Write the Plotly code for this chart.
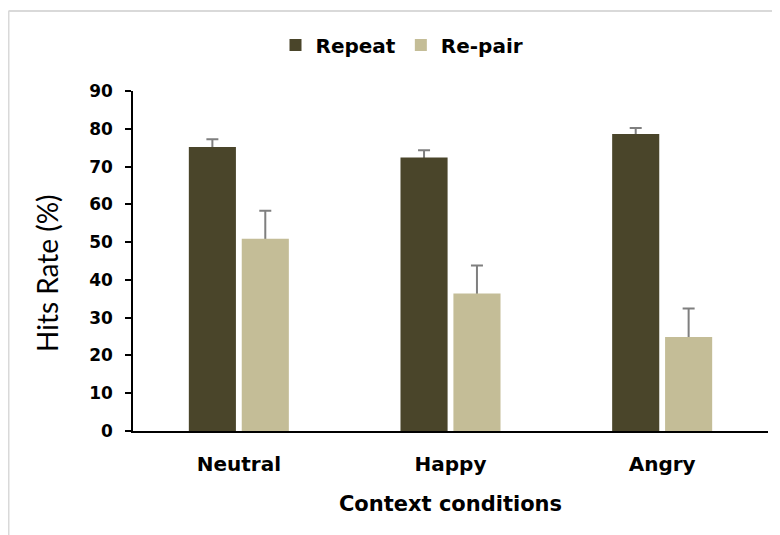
import plotly.graph_objects as go

categories = ["Neutral", "Happy", "Angry"]
repeat_vals = [75.2, 72.4, 78.6]
repeat_err = [2.0, 1.9, 1.6]
repair_vals = [50.9, 36.4, 24.9]
repair_err = [7.4, 7.4, 7.5]
y_ticks = [0, 10, 20, 30, 40, 50, 60, 70, 80, 90]

BOLD = "DejaVu Sans"
err_style = dict(type="data", thickness=2, width=6, color="#7f7f7f")
CLEAR = "rgba(0,0,0,0)"

fig = go.Figure()
# error bars first (transparent bars), so the solid bars drawn later hide the lower half
fig.add_trace(go.Bar(
    name="Repeat", x=categories, y=repeat_vals, offsetgroup="rep",
    error_y=dict(array=repeat_err, **err_style),
    marker=dict(color=CLEAR, line=dict(width=0)), showlegend=False, hoverinfo="skip",
))
fig.add_trace(go.Bar(
    name="Re-pair", x=categories, y=repair_vals, offsetgroup="pair",
    error_y=dict(array=repair_err, **err_style),
    marker=dict(color=CLEAR, line=dict(width=0)), showlegend=False, hoverinfo="skip",
))
fig.add_trace(go.Bar(
    name="Repeat", x=categories, y=repeat_vals, offsetgroup="rep",
    marker=dict(color="#4a452a", line=dict(width=0)),
))
fig.add_trace(go.Bar(
    name="Re-pair", x=categories, y=repair_vals, offsetgroup="pair",
    marker=dict(color="#c4bd97", line=dict(width=0)),
))

W, H = 772, 527
L, T, R, B = 125, 83, 12, 104
pw, ph = W - L - R, H - T - B


def px(x):
    return (x - L) / pw


def py(y):
    return (H - B - y) / ph


fig.update_layout(
    width=W, height=H,
    margin=dict(l=L, r=R, t=T, b=B),
    paper_bgcolor="white", plot_bgcolor="white",
    barmode="group", bargap=0.5, bargroupgap=0.11,
    showlegend=True,
    legend=dict(
        orientation="h", xref="container", yref="container",
        x=394 / W, xanchor="center", y=1 - 37 / H, yanchor="middle",
        font=dict(family=BOLD, size=20, color="black", weight="bold"),
        itemwidth=30,
    ),
    xaxis=dict(
        showline=True, linecolor="black", linewidth=1.5,
        ticks="", showgrid=False,
        tickfont=dict(family=BOLD, size=20, color="black", weight="bold"),
        ticklabelstandoff=14,
        title=dict(text="Context conditions", standoff=22,
                   font=dict(family=BOLD, size=21, color="black", weight="bold")),
    ),
    yaxis=dict(
        range=[0, 90], tickvals=y_ticks,
        showline=True, linecolor="black", linewidth=1.5,
        ticks="outside", ticklen=6, tickwidth=1.5, tickcolor="black",
        showgrid=False, zeroline=False,
        tickfont=dict(family=BOLD, size=17, color="black", weight="bold"),
        ticklabelstandoff=9,
    ),
    annotations=[
        dict(text="Hits Rate (%)", textangle=-90, showarrow=False,
             xref="paper", yref="paper", x=px(39), y=py(265),
             xanchor="center", yanchor="middle",
             font=dict(family="Lato", size=28, color="black")),
    ],
    shapes=[
        dict(type="line", xref="paper", yref="paper",
             x0=px(0.5), x1=px(0.5), y0=py(3), y1=py(H + 20),
             line=dict(color="#d9d9d9", width=2)),
        dict(type="line", xref="paper", yref="paper",
             x0=px(0.5), x1=px(W + 20), y0=py(3), y1=py(3),
             line=dict(color="#d9d9d9", width=2)),
    ],
)

fig.write_html("out.html")
